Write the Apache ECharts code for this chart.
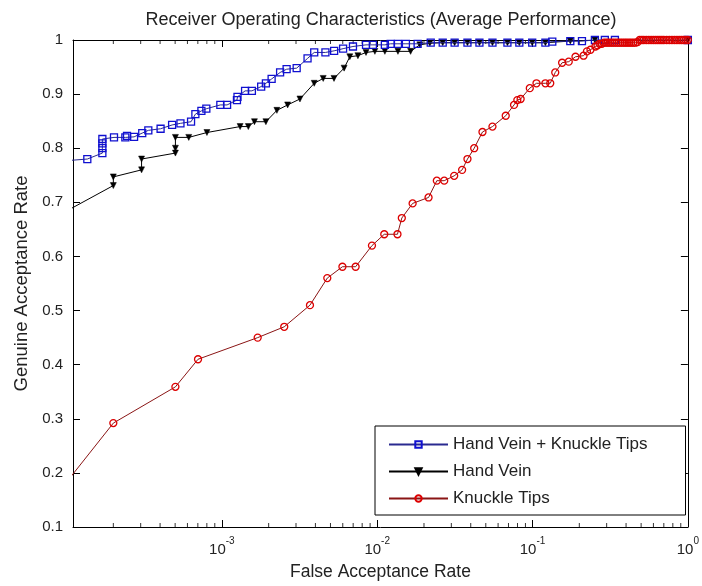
<!DOCTYPE html>
<html>
<head>
<meta charset="utf-8">
<script src="https://cdn.jsdelivr.net/npm/echarts@6/dist/echarts.min.js"></script>
<style>html,body{margin:0;padding:0;background:#fff}#c{width:702px;height:586px}</style>
</head>
<body>
<div id="c"></div>
<script>
const titleText = 'Receiver Operating Characteristics (Average Performance)';
const xName = 'False Acceptance Rate';
const yName = 'Genuine Acceptance Rate';
const seriesNames = ['Hand Vein + Knuckle Tips', 'Hand Vein', 'Knuckle Tips'];
const yTicks = [0.1, 0.2, 0.3, 0.4, 0.5, 0.6, 0.7, 0.8, 0.9, 1];
const xMinorTicks = [2e-4,3e-4,4e-4,5e-4,6e-4,7e-4,8e-4,9e-4,
  2e-3,3e-3,4e-3,5e-3,6e-3,7e-3,8e-3,9e-3,
  2e-2,3e-2,4e-2,5e-2,6e-2,7e-2,8e-2,9e-2,
  0.2,0.3,0.4,0.5,0.6,0.7,0.8,0.9];

const far1 = [1e-4,1.36e-4,1.70e-4,1.70e-4,1.70e-4,1.70e-4,2.02e-4,2.39e-4,2.45e-4,2.72e-4,3.07e-4,3.36e-4,4.03e-4,4.78e-4,5.41e-4,6.33e-4,6.75e-4,7.38e-4,7.94e-4,9.77e-4,1.08e-3,1.25e-3,1.26e-3,1.41e-3,1.56e-3,1.79e-3,1.92e-3,2.09e-3,2.37e-3,2.61e-3,3.03e-3,3.56e-3,3.93e-3,4.64e-3,5.28e-3,6.03e-3,6.98e-3,8.47e-3,9.38e-3,1.12e-2,1.22e-2,1.36e-2,1.53e-2,1.82e-2,2.21e-2,2.64e-2,3.15e-2,3.81e-2,4.55e-2,5.52e-2,6.89e-2,8.22e-2,9.95e-2,0.121,0.134,0.175,0.208,0.252,0.292,0.339,1];
const gar1 = [0.777,0.780,0.791,0.800,0.809,0.817,0.820,0.820,0.823,0.821,0.828,0.833,0.836,0.843,0.846,0.849,0.863,0.869,0.873,0.880,0.880,0.889,0.895,0.906,0.906,0.914,0.920,0.928,0.940,0.946,0.948,0.966,0.977,0.977,0.980,0.984,0.988,0.991,0.991,0.991,0.993,0.993,0.993,0.993,0.995,0.995,0.995,0.995,0.995,0.995,0.995,0.995,0.995,0.995,0.997,0.998,0.998,1.0,1.0,1.0,1.0];

const far2 = [1e-4,2e-4,2e-4,3.04e-4,3.04e-4,5.02e-4,5.02e-4,5.02e-4,6.12e-4,8.01e-4,1.31e-3,1.48e-3,1.62e-3,1.92e-3,2.26e-3,2.65e-3,3.18e-3,3.93e-3,4.49e-3,5.27e-3,6.12e-3,6.66e-3,7.51e-3,8.47e-3,9.66e-3,1.12e-2,1.36e-2,1.64e-2,1.88e-2,2.18e-2,2.64e-2,3.15e-2,3.81e-2,4.55e-2,5.52e-2,6.89e-2,8.22e-2,9.95e-2,0.121,0.175,0.252,1];
const gar2 = [0.684,0.731,0.747,0.760,0.780,0.791,0.800,0.820,0.820,0.829,0.840,0.840,0.849,0.849,0.870,0.880,0.891,0.920,0.929,0.929,0.948,0.969,0.971,0.977,0.979,0.979,0.979,0.979,0.991,0.994,0.995,0.995,0.995,0.995,0.995,0.995,0.995,0.995,0.995,0.998,1.0,1.0];

const far3 = [1e-4,2e-4,5.02e-4,7.02e-4,1.70e-3,2.52e-3,3.69e-3,4.77e-3,5.97e-3,7.26e-3,9.25e-3,1.11e-2,1.35e-2,1.44e-2,1.69e-2,2.14e-2,2.42e-2,2.70e-2,3.13e-2,3.52e-2,3.81e-2,4.21e-2,4.76e-2,5.52e-2,6.72e-2,7.60e-2,7.98e-2,8.38e-2,9.6e-2,0.106,0.121,0.130,0.140,0.155,0.171,0.189,0.213,0.224,0.236,0.254,0.262,0.27,0.279,0.288,0.297,0.306,0.316,0.326,0.336,0.347,0.358,0.369,0.381,0.393,0.405,0.418,0.431,0.445,0.459,0.474,0.489,0.505,0.52,0.54,0.56,0.58,0.6,0.62,0.64,0.66,0.68,0.7,0.73,0.76,0.79,0.82,0.85,0.88,0.91,0.94,0.97,1.0];
const gar3 = [0.183,0.292,0.359,0.410,0.450,0.470,0.510,0.560,0.581,0.581,0.620,0.641,0.641,0.671,0.698,0.709,0.740,0.740,0.749,0.760,0.780,0.800,0.830,0.840,0.860,0.880,0.889,0.891,0.911,0.920,0.920,0.920,0.940,0.958,0.960,0.969,0.971,0.979,0.982,0.988,0.990,0.993,0.993,0.995,0.995,0.995,0.995,0.995,0.995,0.995,0.995,0.995,0.995,0.995,0.995,0.995,0.995,0.995,0.995,0.996,1.0,1.0,1.0,1.0,1.0,1.0,1.0,1.0,1.0,1.0,1.0,1.0,1.0,1.0,1.0,1.0,1.0,1.0,1.0,1.0,1.0,1.0];

const zip = (a, b) => a.map((v, i) => [v, b[i]]);
const FONT = '"Liberation Sans", Arial, sans-serif';
const TXT = '#222';
const X_MIN = 1.1e-4, X_MAX = 1, Y_MIN = 0.1, Y_MAX = 1;

function xLabel(v) {
  const l = Math.log10(v);
  const e = Math.round(l);
  if (Math.abs(l - e) > 1e-6) return '';
  return '{b|10}{s|' + e + '}';
}

const baseX = {
  type: 'log', logBase: 10, min: X_MIN, max: X_MAX,
  splitLine: { show: false }, minorTick: { show: false }, minorSplitLine: { show: false }
};

// minor log ticks drawn as tiny marks placed by the x scale at the bottom / top edges
const minorTickSeries = (yEdge, dir) => ({
  type: 'scatter', xAxisIndex: 0, yAxisIndex: 0, silent: true, clip: false,
  data: xMinorTicks.map(v => [v, yEdge]),
  symbol: 'rect', symbolSize: [1, 4], symbolOffset: [0, dir * 2],
  itemStyle: { color: '#000' }, z: 1, tooltip: { show: false }
});

const chart = echarts.init(document.getElementById('c'), null, { renderer: 'canvas' });
chart.setOption({
  animation: false,
  backgroundColor: '#fff',
  title: {
    text: titleText, left: 376, textAlign: 'center', top: 6,
    textStyle: { fontFamily: FONT, fontSize: 18, fontWeight: 'normal', color: TXT }
  },
  grid: { left: 73, right: 12, top: 40, bottom: 59, containLabel: false },
  legend: {
    orient: 'vertical', left: 375, top: 426,
    backgroundColor: '#fff', borderColor: '#000', borderWidth: 1, borderRadius: 0,
    padding: [9, 38, 7, 13], itemGap: 8, itemWidth: 59, itemHeight: 8,
    textStyle: { fontFamily: FONT, fontSize: 17, color: TXT, lineHeight: 19 },
    data: seriesNames
  },
  xAxis: [
    Object.assign({}, baseX, {
      position: 'bottom', name: xName, nameLocation: 'middle', nameGap: 36,
      nameTextStyle: { fontFamily: FONT, fontSize: 17.5, color: TXT },
      axisLine: { show: true, onZero: false, lineStyle: { color: '#000', width: 1 } },
      axisTick: { show: true, inside: true, length: 7, lineStyle: { color: '#000' } },
      axisLabel: {
        show: true, margin: 8, formatter: xLabel, showMinLabel: false,
        rich: {
          b: { fontFamily: FONT, fontSize: 15, color: TXT, lineHeight: 22, verticalAlign: 'bottom' },
          s: { fontFamily: FONT, fontSize: 10, color: TXT, lineHeight: 22, verticalAlign: 'top', padding: [1, 0, 0, 0] }
        }
      }
    }),
    Object.assign({}, baseX, {
      position: 'top',
      axisLine: { show: true, onZero: false, lineStyle: { color: '#000', width: 1 } },
      axisTick: { show: true, inside: true, length: 7, lineStyle: { color: '#000' } },
      axisLabel: { show: false }
    })
  ],
  yAxis: [
    {
      type: 'value', min: Y_MIN, max: Y_MAX, interval: 0.1, position: 'left',
      name: yName, nameLocation: 'middle', nameGap: 41,
      nameTextStyle: { fontFamily: FONT, fontSize: 18.5, color: TXT },
      axisLine: { show: true, onZero: false, lineStyle: { color: '#000', width: 1 } },
      axisTick: { show: true, inside: true, length: 7, lineStyle: { color: '#000' } },
      axisLabel: {
        margin: 10, fontFamily: FONT, fontSize: 15, color: TXT,
        customValues: yTicks,
        formatter: v => String(Math.round(v * 10) / 10)
      },
      splitLine: { show: false }
    },
    {
      type: 'value', min: Y_MIN, max: Y_MAX, interval: 0.1, position: 'right',
      axisLine: { show: true, onZero: false, lineStyle: { color: '#000', width: 1 } },
      axisTick: { show: true, inside: true, length: 7, lineStyle: { color: '#000' } },
      axisLabel: { show: false }, splitLine: { show: false }
    }
  ],
  series: [
    minorTickSeries(Y_MIN, -1),
    minorTickSeries(Y_MAX, 1),
    {
      name: seriesNames[0], type: 'line', xAxisIndex: 0, yAxisIndex: 0,
      data: zip(far1, gar1), clip: true, z: 3,
      symbol: 'rect', symbolSize: 7, showAllSymbol: true,
      lineStyle: { color: '#2a2a90', width: 1 },
      itemStyle: { color: 'rgba(255,255,255,0)', borderColor: '#1010d0', borderWidth: 1.3 }
    },
    {
      name: seriesNames[1], type: 'line', xAxisIndex: 0, yAxisIndex: 0,
      data: zip(far2, gar2), clip: true, z: 2,
      symbol: 'triangle', symbolRotate: 180, symbolSize: 6, showAllSymbol: true,
      lineStyle: { color: '#000', width: 1 },
      itemStyle: { color: '#000', borderColor: '#000', borderWidth: 0.5 }
    },
    {
      name: seriesNames[2], type: 'line', xAxisIndex: 0, yAxisIndex: 0,
      data: zip(far3, gar3), clip: true, z: 4,
      symbol: 'circle', symbolSize: 7, showAllSymbol: true,
      lineStyle: { color: '#8a1515', width: 1 },
      itemStyle: { color: 'rgba(255,255,255,0)', borderColor: '#dd0000', borderWidth: 1.3 }
    }
  ]
});
</script>
</body>
</html>
